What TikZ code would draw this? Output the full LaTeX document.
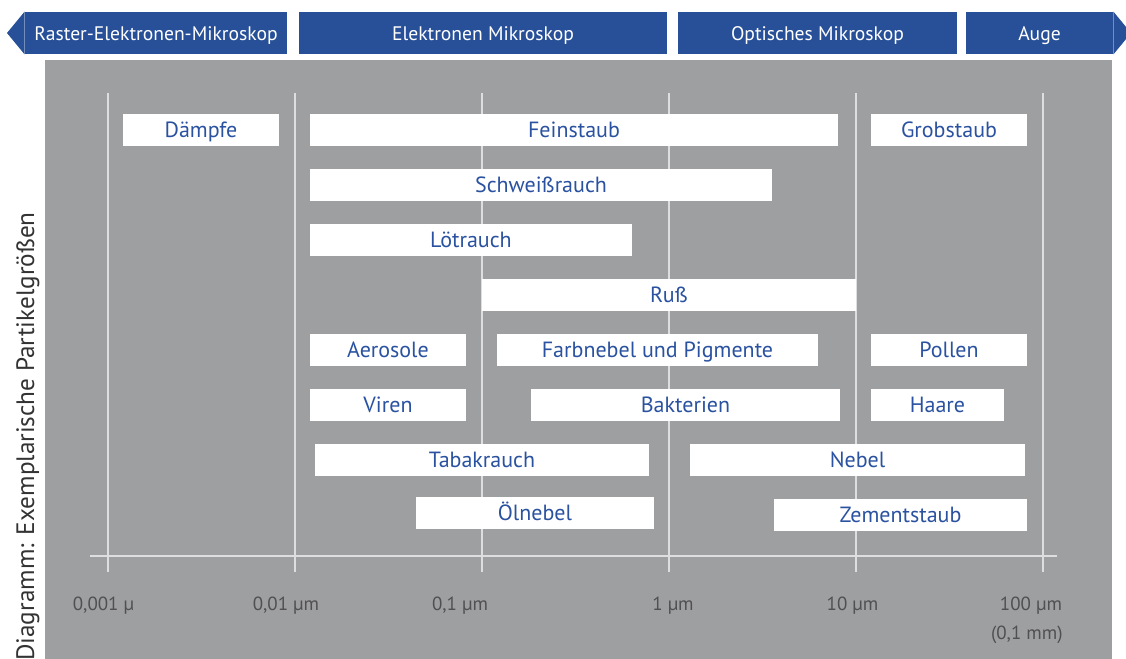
\documentclass[tikz,border=0pt]{standalone}
\usepackage{fontspec}
\setmainfont{PT Sans}
\definecolor{bandblue}{RGB}{40,80,152}
\definecolor{bartext}{RGB}{42,82,160}
\definecolor{panelgray}{RGB}{158,159,161}
\definecolor{gridgray}{RGB}{222,222,224}
\definecolor{labelgray}{RGB}{80,80,82}
\begin{document}
\begin{tikzpicture}[x=0.5pt,y=-0.5pt,
    banner/.style={fill=bandblue,text=white,minimum height=21pt,inner sep=0pt,text height=8pt,text depth=0.4pt,font=\fontsize{9.8}{12}\selectfont},
    bar/.style={fill=white,text=bartext,minimum height=15.75pt,inner sep=0pt,text height=8pt,text depth=0.5pt,font=\fontsize{11}{13}\selectfont},
    axislab/.style={text=labelgray,anchor=base,inner sep=0pt,font=\fontsize{9.5}{11}\selectfont}]
    \useasboundingbox (0,0) rectangle (1126,659);
    \clip (0,0) rectangle (1126,659);
    %draw banners
    \foreach \name/\x/\w/\txt in {ras/156/131/Raster-Elektronen-Mikroskop,
        ele/483/184/Elektronen Mikroskop, opt/817.5/139.5/Optisches Mikroskop, aug/1039.5/73.5/Auge}
        {%
            \node[banner,minimum width=\w pt] (\name) at (\x,33) {\txt};
        }
    \coordinate (raspoint) at (7,33);
    \coordinate (augpoint) at (1131,33);
    \fill[bandblue] (ras.north west) -- (raspoint) -- (ras.south west) -- cycle;
    \fill[bandblue] (aug.north east) -- (augpoint) -- (aug.south east) -- cycle;
    %draw panel and grid
    \fill[panelgray] (45,60) rectangle (1112,670);
    \foreach \x in {108,295,482,669,856,1043}
        {%
            \draw[gridgray,line width=0.75pt] (\x,93) -- (\x,572);
        }
    \draw[gridgray,line width=0.75pt] (90,556) -- (1057,556);
    %draw bars
    \foreach \name/\xa/\xb/\y/\txt in {daempfe/123/279/130/Dämpfe, feinstaub/310/838/130/Feinstaub,
        grobstaub/871/1027/130/Grobstaub, schweiss/310/772/185/Schweißrauch, loet/310/632/240/Lötrauch,
        russ/482/856/295/Ruß, aerosole/310/466/350/Aerosole, farbnebel/497/818/350/Farbnebel und Pigmente,
        pollen/871/1027/350/Pollen, viren/310/466/405/Viren, bakterien/531/840/405/Bakterien,
        haare/871/1004/405/Haare, tabak/315/649/460/Tabakrauch, nebel/690/1025/460/Nebel,
        oelnebel/416/654/513/Ölnebel, zement/774/1027/515/Zementstaub}
        {%
            \node[bar,minimum width={(\xb-\xa)*0.5pt}] (\name) at ({(\xa+\xb)/2},\y) {\txt};
        }
    %draw axis value
    \foreach \name/\x/\lab in {l0/103.5/{0,001 µ}, l1/286/{0,01 µm}, l2/460/{0,1 µm},
        l3/673/{1 µm}, l4/852.5/{10 µm}, l5/1031/{100 µm}}
        {%
            \node[axislab] (\name) at (\x,610) {\lab};
        }
    \node[axislab,anchor=base east] (l5b) at (1063,639) {(0,1 mm)};
    \node[rotate=90,anchor=base east,inner sep=0pt,text=black!80,font=\fontsize{12.6}{14}\selectfont] (ylab) at (34,212)
        {Diagramm: Exemplarische Partikelgrößen};
\end{tikzpicture}
\end{document}
